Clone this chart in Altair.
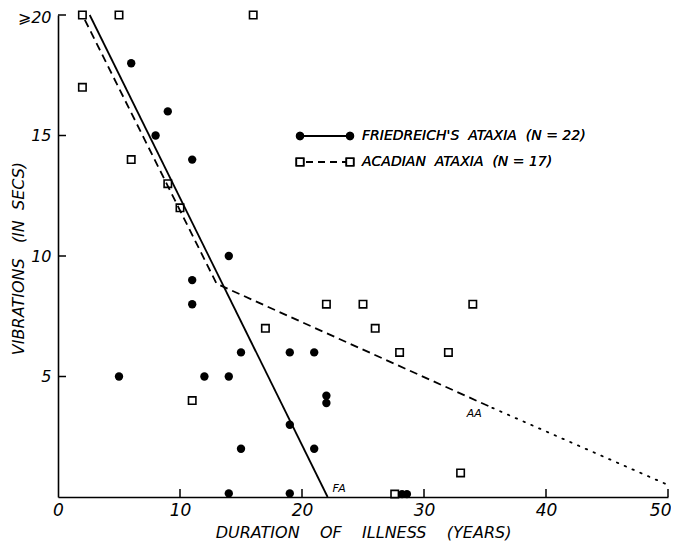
import altair as alt
import pandas as pd

# ---- data ----
fa_x = [6, 9, 8, 11, 14, 11, 11, 15, 19, 21, 5, 12, 14, 22, 22, 19, 15, 21, 14, 19, 28.2, 28.6]
fa_y = [18, 16, 15, 14, 10, 9, 8, 6, 6, 6, 5, 5, 5, 4.2, 3.9, 3, 2, 2, 0.15, 0.15, 0.12, 0.12]

aa_x = [2, 5, 16, 2, 6, 9, 10, 11, 17, 22, 25, 34, 26, 28, 32, 33, 27.6]
aa_y = [20, 20, 20, 17, 14, 13, 12, 4, 7, 8, 8, 8, 7, 6, 6, 1, 0.12]

fa_line_x = [2.6, 22.1]
fa_line_y = [20, 0]
aa_dash_x = [2.2, 13.0, 35.6]
aa_dash_y = [19.8, 8.85, 3.7]
aa_dot_x = [35.6, 50]
aa_dot_y = [3.7, 0.5]

ann_text = ["FA", "AA"]
ann_x = [22.5, 33.5]
ann_y = [0.2, 3.3]

x_ticks = [10, 20, 30, 40, 50]
x_labels = [0, 10, 20, 30, 40, 50]
y_ticks = [5, 10, 15, 20]

NB = "\u00a0"
legend_labels = [f"FRIEDREICH'S{NB} ATAXIA{NB} (N{NB}={NB}22)", f"ACADIAN{NB} ATAXIA{NB} (N{NB}={NB}17)"]

W, H = 610, 482
FONT = "DejaVu Sans"

fa = pd.DataFrame({"x": fa_x, "y": fa_y})
aa = pd.DataFrame({"x": aa_x, "y": aa_y})
fa_line = pd.DataFrame({"x": fa_line_x, "y": fa_line_y, "i": range(len(fa_line_x))})
aa_dash = pd.DataFrame({"x": aa_dash_x, "y": aa_dash_y, "i": range(len(aa_dash_x))})
aa_dot = pd.DataFrame({"x": aa_dot_x, "y": aa_dot_y, "i": range(len(aa_dot_x))})
ann = pd.DataFrame({"t": ann_text, "x": ann_x, "y": ann_y})

xs = alt.Scale(domain=[0, 50], nice=False, zero=False)
ys = alt.Scale(domain=[0, 20], nice=False, zero=False)

x_axis = alt.Axis(
    values=x_labels, ticks=False, grid=False, domainColor="black", domainWidth=1.6,
    labelFont=FONT, labelFontStyle="italic", labelFontSize=17, labelColor="black",
    labelPadding=5, labelFlush=False, labelOverlap=False,
    labelAlign={"condition": {"test": "datum.value == 50", "value": "right"}, "value": "center"},
    labelOffset={"condition": {"test": "datum.value == 50", "value": 3}, "value": 0},
    title=f"DURATION{NB}{NB}{NB} OF{NB}{NB}{NB} ILLNESS{NB}{NB}{NB} (YEARS)", titleFont=FONT, titleFontStyle="italic",
    titleFontWeight="normal", titleFontSize=16, titleColor="black", titlePadding=6,
)
y_axis = alt.Axis(
    values=y_ticks, ticks=False, grid=False, domainColor="black", domainWidth=1.6,
    labelFont=FONT, labelFontStyle="italic", labelFontSize=16, labelColor="black",
    labelPadding=7, labelFlush=False, labelOverlap=False,
    labelOffset={"condition": {"test": "datum.value == 20", "value": 2}, "value": 0},
    labelExpr="datum.value == 20 ? '\u2a7e20' : datum.label",
    title=f"VIBRATIONS{NB}{NB} (IN{NB} SECS)", titleFont=FONT, titleFontStyle="italic",
    titleFontWeight="normal", titleFontSize=16, titleColor="black",
    titleX=-40, titleY=243, titleAngle=-90, titleAlign="center", titleBaseline="middle",
)


def X(f):
    return alt.X(f, scale=xs, axis=x_axis)


def Y(f):
    return alt.Y(f, scale=ys, axis=y_axis)


fa_pts = alt.Chart(fa).mark_point(shape="circle", filled=True, color="black", size=70, opacity=1).encode(
    x=X("x:Q"), y=Y("y:Q")
)
aa_pts = alt.Chart(aa).mark_point(shape="square", filled=False, color="black", size=55, strokeWidth=1.6, opacity=1).encode(
    x=X("x:Q"), y=Y("y:Q")
)

fa_ln = alt.Chart(fa_line).mark_line(color="black", strokeWidth=1.8).encode(
    x=X("x:Q"), y=Y("y:Q"), order="i:O"
)
aa_ln = alt.Chart(aa_dash).mark_line(color="black", strokeWidth=1.8, strokeDash=[8, 5]).encode(
    x=X("x:Q"), y=Y("y:Q"), order="i:O"
)
aa_dt = alt.Chart(aa_dot).mark_line(color="black", strokeWidth=1.8, strokeDash=[1.5, 7], strokeCap="round").encode(
    x=X("x:Q"), y=Y("y:Q"), order="i:O"
)

ann_txt = alt.Chart(ann).mark_text(font=FONT, fontStyle="italic", fontSize=11, align="left", baseline="alphabetic", color="black").encode(
    x=X("x:Q"), y=Y("y:Q"), text="t:N"
)

xt = alt.Chart(pd.DataFrame({"x": x_ticks})).mark_rule(color="black", strokeWidth=1.5).encode(
    x=X("x:Q"), y=alt.value(H), y2=alt.value(H - 8)
)
yt = alt.Chart(pd.DataFrame({"y": y_ticks})).mark_rule(color="black", strokeWidth=1.5).encode(
    y=Y("y:Q"), x=alt.value(0), x2=alt.value(8)
)

# ---- hand-drawn legend ----
leg_df = pd.DataFrame({"label": legend_labels})
r1, r2 = 121, 147
lx0, lx1, ltx = 242, 292, 304
leg_line1 = alt.Chart(leg_df).mark_rule(color="black", strokeWidth=1.8).encode(
    x=alt.value(lx0), x2=alt.value(lx1), y=alt.value(r1))
leg_line2 = alt.Chart(leg_df).mark_rule(color="black", strokeWidth=1.8, strokeDash=[7, 5]).encode(
    x=alt.value(lx0 + 6), x2=alt.value(lx1 - 4), y=alt.value(r2))
leg_c1 = alt.Chart(leg_df).mark_point(shape="circle", filled=True, color="black", size=70, opacity=1).encode(
    x=alt.value(lx0), y=alt.value(r1))
leg_c2 = alt.Chart(leg_df).mark_point(shape="circle", filled=True, color="black", size=70, opacity=1).encode(
    x=alt.value(lx1), y=alt.value(r1))
leg_s1 = alt.Chart(leg_df).mark_point(shape="square", filled=False, color="black", size=55, strokeWidth=1.6, opacity=1).encode(
    x=alt.value(lx0), y=alt.value(r2))
leg_s2 = alt.Chart(leg_df).mark_point(shape="square", filled=False, color="black", size=55, strokeWidth=1.6, opacity=1).encode(
    x=alt.value(lx1), y=alt.value(r2))
leg_t1 = alt.Chart(leg_df).mark_text(font=FONT, fontStyle="italic", fontSize=14, align="left", baseline="middle", color="black",
                                     text=legend_labels[0]).encode(x=alt.value(ltx), y=alt.value(r1))
leg_t2 = alt.Chart(leg_df).mark_text(font=FONT, fontStyle="italic", fontSize=14, align="left", baseline="middle", color="black",
                                     text=legend_labels[1]).encode(x=alt.value(ltx), y=alt.value(r2))

chart = alt.layer(
    fa_pts, aa_pts, fa_ln, aa_ln, aa_dt, ann_txt, xt, yt,
    leg_line1, leg_line2, leg_c1, leg_c2, leg_s1, leg_s2, leg_t1, leg_t2,
).properties(
    width=W, height=H,
    autosize=alt.AutoSizeParams(type="none"),
    padding={"left": 50, "top": 7, "right": 3, "bottom": 47},
    background="white",
).configure_view(stroke=None)

chart.save("out.html", embed_options={"renderer": "svg", "actions": False})
